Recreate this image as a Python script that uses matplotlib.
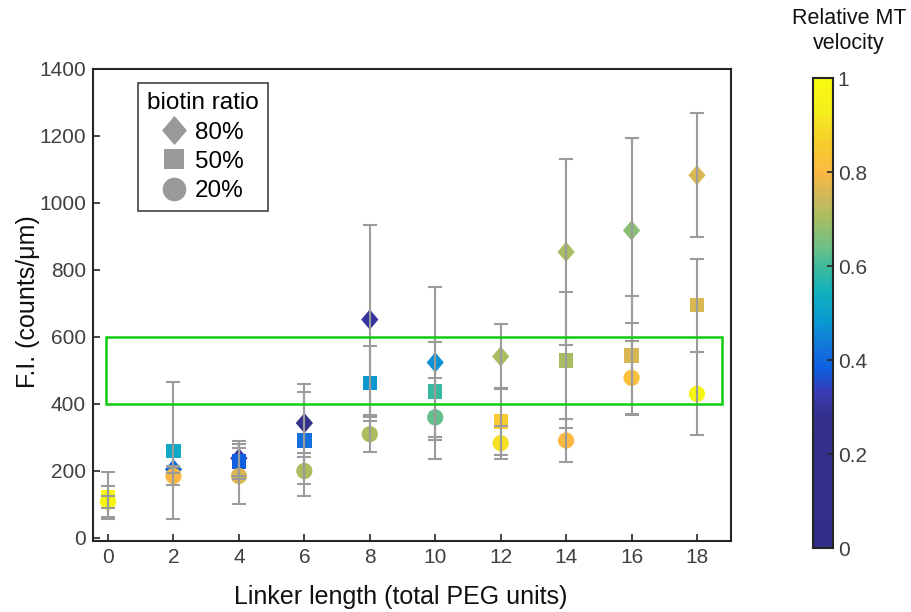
import matplotlib
matplotlib.use("Agg")
import matplotlib.pyplot as plt
import numpy as np
from matplotlib.colors import LinearSegmentedColormap
from matplotlib.patches import Rectangle
from matplotlib.lines import Line2D
import matplotlib.cm as cm

plt.rcParams['font.family'] = ['Liberation Sans', 'DejaVu Sans']

# linker length (total PEG units)
linker = [0, 2, 4, 6, 8, 10, 12, 14, 16, 18]

# F.I. (counts/um) per biotin ratio
fi_80 = [110, 205, 238, 343, 652, 524, 542, 854, 918, 1083]
fi_50 = [123, 260, 228, 291, 462, 437, 348, 530, 545, 695]
fi_20 = [108, 185, 185, 200, 310, 360, 283, 291, 478, 430]

# error bar ends (upper / lower)
hi_80 = [124, 215, 290, 460, 934, 749, 640, 1131, 1195, 1268]
lo_80 = [91, 195, 186, 255, 368, 300, 445, 577, 642, 898]
hi_50 = [197, 466, 280, 436, 574, 584, 449, 735, 722, 834]
lo_50 = [57, 56, 176, 126, 348, 292, 247, 328, 368, 555]
hi_20 = [156, 211, 270, 243, 360, 479, 334, 356, 587, 555]
lo_20 = [64, 158, 101, 161, 258, 237, 235, 226, 369, 306]

# relative MT velocity (colour)
vel_80 = [1.0, 0.40, 0.31, 0.22, 0.30, 0.47, 0.70, 0.70, 0.67, 0.76]
vel_50 = [0.97, 0.52, 0.38, 0.42, 0.48, 0.59, 0.85, 0.70, 0.76, 0.76]
vel_20 = [0.97, 0.80, 0.76, 0.71, 0.71, 0.63, 0.90, 0.80, 0.82, 0.97]

stops = [(0.00, '#312f87'), (0.28, '#33318c'), (0.33, '#3a3ab4'),
         (0.38, '#0d5fe0'), (0.42, '#1470dc'), (0.48, '#0a98d2'),
         (0.54, '#0fb0c0'), (0.59, '#35b9a0'), (0.64, '#6cc088'),
         (0.70, '#a6bd62'), (0.75, '#d0b858'), (0.80, '#fbb842'),
         (0.86, '#f7cc2e'), (0.93, '#f4ee1c'), (1.00, '#f9fb0e')]
cmap = LinearSegmentedColormap.from_list('vel', stops)

diamond = [(0, 1), (0.85, 0), (0, -1), (-0.85, 0), (0, 1)]

fig = plt.figure(figsize=(9.11, 6.12), dpi=100)
ax = fig.add_axes([93/911, 1-541/612, 638/911, 472/612])

ax.scatter(linker, fi_80, c=vel_80, cmap=cmap, vmin=0, vmax=1, marker=diamond,
           s=14.6**2, linewidths=0, zorder=2)
ax.scatter(linker, fi_50, c=vel_50, cmap=cmap, vmin=0, vmax=1, marker='s',
           s=10.3**2, linewidths=0, zorder=2)
ax.scatter(linker, fi_20, c=vel_20, cmap=cmap, vmin=0, vmax=1, marker='o',
           s=11.7**2, linewidths=0, zorder=2)

for fi, hi, lo in [(fi_80, hi_80, lo_80), (fi_50, hi_50, lo_50), (fi_20, hi_20, lo_20)]:
    fi = np.array(fi)
    yerr = [fi - np.array(lo), np.array(hi) - fi]
    ax.errorbar(linker, fi, yerr=yerr, fmt='none', ecolor='#9b9b9b',
                elinewidth=1.5, capsize=5, capthick=1.5, zorder=3)

ax.add_patch(Rectangle((-0.06, 400), 18.81, 200, fill=False,
                       edgecolor='#11cc11', linewidth=1.8, zorder=4))

ax.set_xlim(-0.46, 19.04)
ax.set_ylim(-9, 1400)
ax.set_xticks(range(0, 19, 2))
ax.set_yticks(range(0, 1401, 200))
ax.tick_params(direction='in', length=5, width=1.2, labelsize=15,
               labelcolor='#404040', color='#262626', pad=5)
for s in ax.spines.values():
    s.set_linewidth(1.5)
    s.set_color('#262626')

ax.set_xlabel('Linker length (total PEG units)', fontsize=18, color='#111111',
              va='center')
ax.xaxis.set_label_coords((401-93)/638, -(597-541)/472)
ax.set_ylabel('F.I. (counts/\u03bcm)', fontsize=18, color='#111111',
              va='center')
ax.yaxis.set_label_coords(-(93-28)/638, (541-302)/472)

gray = '#999999'
handles = [Line2D([], [], ls='none', marker=diamond, ms=21, color=gray, mew=0),
           Line2D([], [], ls='none', marker='s', ms=14, color=gray, mew=0),
           Line2D([], [], ls='none', marker='o', ms=17, color=gray, mew=0)]
leg = ax.legend(handles, ['80%', '50%', '20%'], title='biotin ratio',
                loc='upper left', bbox_to_anchor=((138-93)/638, (541-83)/472),
                fontsize=17.5, title_fontsize=17.5, frameon=True, fancybox=False,
                edgecolor='#111111', handlelength=1.0, handletextpad=0.35,
                labelspacing=0.3, borderpad=0.38, borderaxespad=0)
leg.get_frame().set_linewidth(1.2)

cax = fig.add_axes([813/911, 1-548/612, 20/911, 470/612])
sm = cm.ScalarMappable(cmap=cmap, norm=plt.Normalize(0, 1))
cb = fig.colorbar(sm, cax=cax)
cb.set_ticks([0, 0.2, 0.4, 0.6, 0.8, 1])
cb.set_ticklabels(['0', '0.2', '0.4', '0.6', '0.8', '1'])
cb.outline.set_linewidth(1.5)
cb.outline.set_edgecolor('#262626')
cax.tick_params(direction='in', length=4, width=1.2, labelsize=15,
                labelcolor='#404040', color='#262626')
fig.text(849/911, 1-31/612, 'Relative MT\nvelocity', ha='center', va='center',
         fontsize=15.5, color='#111111', linespacing=1.3)

fig.savefig('out.png', dpi=100)
